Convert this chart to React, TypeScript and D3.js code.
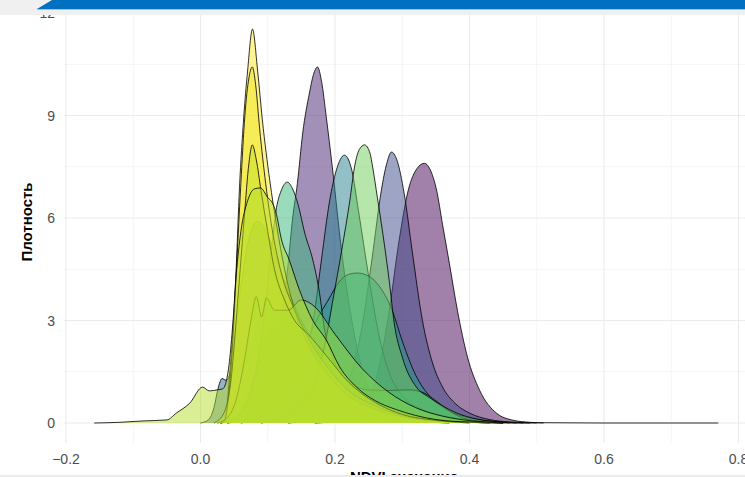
import * as d3 from 'd3';
import { useEffect, useRef } from 'react';

// NDVI density curves, [ndvi, density], back to front
const gA = [[0.17,0],[0.20,0.05],[0.23,0.25],[0.25,0.7],[0.265,1.6],[0.28,3.2],[0.295,5.3],[0.309,6.82],[0.322,7.45],[0.333,7.6],[0.343,7.35],[0.351,6.82],[0.36,5.8],[0.37,4.68],[0.382,3.3],[0.397,1.93],[0.415,0.96],[0.44,0.29],[0.465,0.08],[0.49,0.02],[0.51,0]];
const gC = [[0.04,0],[0.07,0.15],[0.09,0.5],[0.11,1.6],[0.12,3.0],[0.13,4.6],[0.137,6.0],[0.144,7.0],[0.152,8.49],[0.162,9.66],[0.168,10.2],[0.174,10.42],[0.18,10.0],[0.187,8.96],[0.196,7.49],[0.21,5.0],[0.225,3.0],[0.24,1.6],[0.26,0.7],[0.29,0.25],[0.33,0.06],[0.37,0]];
const gB = [[0.13,0],[0.16,0.1],[0.19,0.4],[0.21,0.85],[0.225,1.5],[0.24,2.8],[0.255,4.8],[0.269,6.82],[0.277,7.6],[0.284,7.93],[0.292,7.7],[0.303,6.7],[0.315,5.0],[0.33,3.0],[0.345,1.76],[0.36,1.05],[0.38,0.55],[0.40,0.29],[0.43,0.1],[0.46,0.03],[0.49,0]];
const gH = [[0.0,0],[0.012,0.1],[0.02,0.45],[0.026,1.0],[0.032,1.3],[0.038,1.25],[0.043,1.4],[0.05,2.4],[0.06,4.0],[0.072,5.4],[0.085,5.9],[0.10,5.5],[0.12,4.4],[0.15,3.0],[0.18,2.0],[0.21,1.3],[0.25,0.7],[0.29,0.35],[0.33,0.15],[0.38,0.05],[0.43,0]];
const gD = [[0.06,0],[0.09,0.15],[0.12,0.4],[0.14,0.9],[0.155,1.8],[0.17,3.3],[0.18,4.8],[0.192,6.5],[0.202,7.4],[0.214,7.84],[0.225,7.4],[0.235,6.2],[0.25,4.3],[0.265,2.6],[0.28,1.5],[0.30,0.8],[0.33,0.4],[0.37,0.18],[0.42,0.05],[0.46,0]];
const gG = [[0.04,0],[0.06,0.3],[0.075,1.0],[0.09,2.1],[0.107,2.8],[0.12,2.4],[0.135,2.0],[0.143,1.93],[0.158,2.4],[0.175,3.1],[0.19,3.6],[0.205,4.1],[0.22,4.35],[0.233,4.39],[0.25,4.3],[0.266,4.0],[0.285,3.3],[0.30,2.4],[0.32,1.4],[0.34,0.8],[0.37,0.35],[0.40,0.15],[0.44,0.04],[0.48,0]];
const gE = [[0.03,0],[0.06,0.3],[0.08,1.2],[0.095,3.2],[0.105,5.0],[0.113,6.3],[0.12,6.8],[0.129,7.05],[0.137,6.85],[0.145,6.4],[0.155,5.56],[0.167,4.77],[0.177,3.8],[0.184,2.8],[0.195,2.0],[0.211,1.35],[0.23,1.08],[0.247,0.97],[0.28,0.95],[0.31,0.97],[0.33,0.9],[0.35,0.65],[0.37,0.35],[0.39,0.15],[0.42,0.04],[0.45,0]];
const gF = [[0.09,0],[0.12,0.15],[0.15,0.5],[0.17,1.2],[0.185,2.3],[0.196,3.5],[0.21,5.06],[0.222,6.5],[0.229,7.49],[0.236,8.0],[0.244,8.14],[0.252,7.9],[0.256,7.49],[0.263,6.6],[0.271,5.56],[0.281,4.1],[0.288,2.93],[0.300,1.93],[0.321,1.05],[0.34,0.75],[0.36,0.5],[0.38,0.3],[0.41,0.12],[0.44,0.04],[0.47,0]];
const gY1 = [[0.03,0],[0.036,0.03],[0.039,0.38],[0.043,1.35],[0.048,2.63],[0.053,4.5],[0.058,6.9],[0.064,8.87],[0.070,10.3],[0.0773,11.53],[0.085,10.3],[0.092,8.87],[0.103,7.1],[0.113,5.8],[0.125,4.5],[0.14,3.3],[0.16,2.3],[0.19,1.4],[0.22,0.8],[0.26,0.4],[0.30,0.18],[0.35,0.06],[0.42,0.01],[0.5,0]];
const gY2 = [[0.025,0],[0.036,0.1],[0.042,0.8],[0.048,2.4],[0.054,4.7],[0.06,7.0],[0.066,9.0],[0.072,10.1],[0.077,10.42],[0.082,9.9],[0.088,8.6],[0.097,7.0],[0.108,5.5],[0.12,4.4],[0.14,3.3],[0.16,2.5],[0.19,1.6],[0.22,0.95],[0.26,0.5],[0.30,0.22],[0.35,0.07],[0.40,0.02],[0.45,0]];
const gM = [[0.03,0],[0.05,0.5],[0.065,1.8],[0.075,3.0],[0.083,3.7],[0.091,3.1],[0.098,3.66],[0.11,3.3],[0.13,3.3],[0.15,3.6],[0.17,3.4],[0.2,2.6],[0.24,1.6],[0.28,0.9],[0.32,0.45],[0.36,0.2],[0.40,0.07],[0.45,0]];
const gY3 = [[0.02,0],[0.035,0.3],[0.045,1.2],[0.055,3.5],[0.065,6.0],[0.072,7.6],[0.077,8.14],[0.083,7.7],[0.09,6.8],[0.1,5.6],[0.11,4.5],[0.125,3.6],[0.14,3.0],[0.16,2.6],[0.19,1.9],[0.22,1.2],[0.26,0.6],[0.3,0.25],[0.35,0.08],[0.4,0]];
const gL = [[-0.158,0],[-0.12,0.02],[-0.086,0.06],[-0.05,0.09],[-0.036,0.29],[-0.016,0.58],[0.003,1.05],[0.013,0.94],[0.025,0.97],[0.033,1.0],[0.038,1.2],[0.043,1.8],[0.048,2.9],[0.053,4.3],[0.06,5.6],[0.07,6.5],[0.08,6.85],[0.089,6.88],[0.1,6.6],[0.108,6.4],[0.113,6.1],[0.12,5.4],[0.132,4.77],[0.147,3.9],[0.167,3.0],[0.187,2.43],[0.207,1.64],[0.232,1.05],[0.26,0.65],[0.29,0.4],[0.32,0.22],[0.35,0.1],[0.40,0.03],[0.5,0.01],[0.6,0],[0.77,0]];

const series = [gA, gC, gB, gH, gD, gG, gE, gF, gY1, gY2, gM, gY3, gL];
const fills = ['#440154', '#482173', '#3E4A89', '#31688E', '#26828E', '#1F9E89', '#35B779', '#6ECE58', '#FDE725', '#EDE51B', '#90D743', '#C2DF23', '#B5DE2B'];

const xTicks = [-0.2, 0.0, 0.2, 0.4, 0.6, 0.8];
const xMinor = [-0.1, 0.1, 0.3, 0.5, 0.7];
const yTicks = [0, 3, 6, 9, 12];
const yMinor = [1.5, 4.5, 7.5, 10.5];

export default function App() {
  const ref = useRef<SVGSVGElement>(null);

  useEffect(() => {
    const W = 745, H = 477;
    const svg = d3.select(ref.current);
    svg.selectAll('*').remove();

    const x = d3.scaleLinear().domain([-0.2, 0.8]).range([66, 738.5]);
    const y = d3.scaleLinear().domain([0, 12]).range([423, 13]);
    const panel = { left: 64, right: W, top: 0, bottom: 443 };

    const grid = svg.append('g');
    xMinor.forEach(v => grid.append('line').attr('x1', x(v)).attr('x2', x(v)).attr('y1', panel.top).attr('y2', panel.bottom).attr('stroke', '#f2f2f2').attr('stroke-width', 0.8));
    yMinor.forEach(v => grid.append('line').attr('x1', panel.left).attr('x2', panel.right).attr('y1', y(v)).attr('y2', y(v)).attr('stroke', '#f2f2f2').attr('stroke-width', 0.8));
    xTicks.forEach(v => grid.append('line').attr('x1', x(v)).attr('x2', x(v)).attr('y1', panel.top).attr('y2', panel.bottom).attr('stroke', '#ebebeb').attr('stroke-width', 1.1));
    yTicks.forEach(v => grid.append('line').attr('x1', panel.left).attr('x2', panel.right).attr('y1', y(v)).attr('y2', y(v)).attr('stroke', '#ebebeb').attr('stroke-width', 1.1));

    const area = d3.area<number[]>().x(d => x(d[0])).y0(y(0)).y1(d => y(d[1])).curve(d3.curveMonotoneX);
    const line = d3.line<number[]>().x(d => x(d[0])).y(d => y(d[1])).curve(d3.curveMonotoneX);

    // each group: fill then outline, so later fills veil earlier outlines
    series.forEach((s, i) => {
      const g = svg.append('g');
      g.append('path').attr('d', area(s as any)).attr('fill', fills[i]).attr('fill-opacity', 0.5);
      g.append('path').attr('d', line(s as any)).attr('fill', 'none').attr('stroke', '#000').attr('stroke-width', 0.9).attr('stroke-opacity', 0.9);
    });

    const font = '"Liberation Sans", Arial, sans-serif';
    svg.append('g').selectAll('text').data(xTicks).enter().append('text')
      .attr('x', d => x(d)).attr('y', 464).attr('text-anchor', 'middle')
      .attr('font-family', font).attr('font-size', 14).attr('fill', '#4d4d4d')
      .text(d => d3.format('.1f')(d));
    svg.append('g').selectAll('text').data(yTicks).enter().append('text')
      .attr('x', 55).attr('y', d => y(d) + 5).attr('text-anchor', 'end')
      .attr('font-family', font).attr('font-size', 14).attr('fill', '#4d4d4d')
      .text(d => String(d));

    svg.append('text').attr('transform', 'translate(32,222) rotate(-90)').attr('text-anchor', 'middle')
      .attr('font-family', font).attr('font-size', 15).attr('font-weight', 'bold').attr('fill', '#000')
      .text('Плотность');
    svg.append('text').attr('x', 404).attr('y', 482).attr('text-anchor', 'middle')
      .attr('font-family', font).attr('font-size', 15).attr('font-weight', 'bold').attr('fill', '#000')
      .text('NDVI значение');

    // page chrome around the screenshot
    svg.append('rect').attr('x', 0).attr('y', 0).attr('width', W).attr('height', 15).attr('fill', '#f0f0f0');
    svg.append('polygon').attr('points', `52,0 ${W},0 ${W},9 37,9`).attr('fill', '#0070c0');
    svg.append('rect').attr('x', 37).attr('y', 9).attr('width', W - 37).attr('height', 1).attr('fill', '#9cc3e6');
    svg.append('rect').attr('x', 0).attr('y', 475).attr('width', W).attr('height', 2).attr('fill', '#ececec');
  }, []);

  return (
    <svg ref={ref} width={745} height={477} style={{ position: 'absolute', left: 0, top: 0, background: '#fff' }} />
  );
}
